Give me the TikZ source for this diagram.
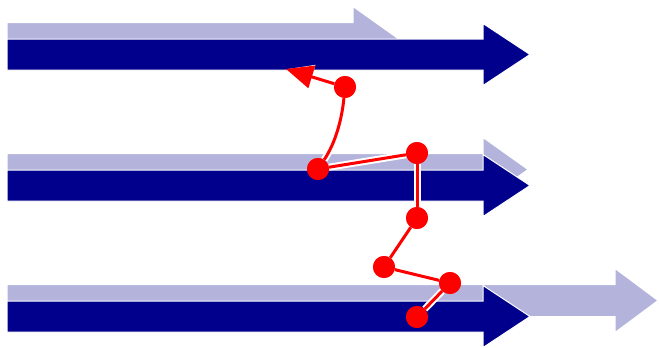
\documentclass[tikz,border=0pt]{standalone}
\usetikzlibrary{arrows.meta}
\definecolor{navyA}{RGB}{0,0,140}
\definecolor{lightA}{RGB}{179,179,220}
\tikzset{
  darkarrow/.style={fill=navyA, draw=white, line width=1pt, line join=miter},
  lightarrow/.style={fill=lightA, draw=white, line width=1pt, line join=miter},
  dot/.style={circle, fill=red, draw=none, inner sep=0pt, minimum size=22pt},
  redline/.style={draw=red, line width=3pt, preaction={draw=white, line width=7pt}},
}
\newcommand{\bigarrow}[6]{% style, x0, base, tip, center, shafthalf/headhalf via #6
  \path[#1] (#2,#5-#6) -- (#3,#5-#6) -- (#3,#5-2*#6) -- (#4,#5) -- (#3,#5+2*#6) -- (#3,#5+#6) -- (#2,#5+#6) -- cycle;}
\begin{document}
\begin{tikzpicture}[x=1pt,y=-1pt]
\useasboundingbox (0,0) rectangle (659,348);
% top row
\bigarrow{lightarrow}{7}{353}{398}{38.5}{16}
\bigarrow{darkarrow}{7}{483}{530}{54.5}{15.5}
% middle row
\bigarrow{lightarrow}{7}{483}{528}{169.5}{16}
\bigarrow{darkarrow}{7}{483}{530}{185.5}{15.5}
% bottom row
\bigarrow{lightarrow}{7}{615}{658}{300.5}{16}
\bigarrow{darkarrow}{7}{483}{530}{316.5}{15.5}
% red chain
\node[dot] (p1) at (345,87) {};
\node[dot] (p2) at (318,169) {};
\node[dot] (p3) at (417,153) {};
\node[dot] (p4) at (417,218) {};
\node[dot] (p5) at (384,267) {};
\node[dot] (p6) at (450,283) {};
\node[dot] (p7) at (417,317) {};
\coordinate (tip) at (286,69);
\draw[redline, -{Triangle[length=27pt,width=23pt]}] (p1) -- (tip);
\draw[redline] (p1) .. controls (342,118) and (336,142) .. (p2);
\draw[redline] (p2) -- (p3);
\draw[redline] (p3) -- (p4);
\draw[redline] (p4) -- (p5);
\draw[redline] (p5) -- (p6);
\draw[redline] (p6) -- (p7);
\node[dot] at (p1) {};
\node[dot] at (p2) {};
\node[dot] at (p3) {};
\node[dot] at (p4) {};
\node[dot] at (p5) {};
\node[dot] at (p6) {};
\node[dot] at (p7) {};
\end{tikzpicture}
\end{document}
